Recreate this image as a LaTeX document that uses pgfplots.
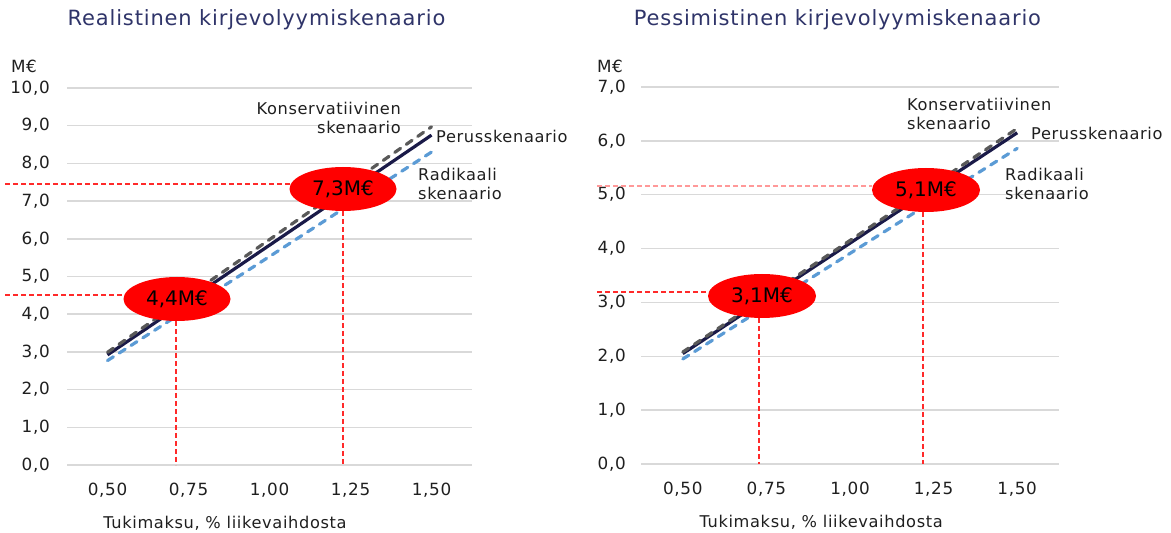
\documentclass[border=0pt]{standalone}
\usepackage{fontspec}
\setmainfont{DejaVu Sans}[LetterSpace=4]
\newfontfamily\plainfont{DejaVu Sans}
\usepackage{pgfplots}
\pgfplotsset{compat=1.18}
\definecolor{navycol}{HTML}{1A1A48}
\definecolor{konscol}{HTML}{595959}
\definecolor{radcol}{HTML}{5B9BD5}
\definecolor{gridc}{HTML}{D9D9D9}
\definecolor{titlec}{HTML}{2F3469}
\definecolor{txt}{HTML}{1F1F1F}
\definecolor{annred}{HTML}{FF2A2A}
\definecolor{annpink}{HTML}{FF9999}

\pgfplotstableread{
x    perus  kons   rad
0.50 2.92   2.99   2.77
0.75 4.375  4.485  4.15
1.00 5.83   5.98   5.53
1.25 7.29   7.475  6.92
1.50 8.75   8.97   8.30
}\realdata
\pgfplotstableread{
x    perus  kons   rad
0.50 2.05   2.08   1.95
0.75 3.075  3.115  2.93
1.00 4.10   4.15   3.91
1.25 5.125  5.19   4.89
1.50 6.15   6.23   5.86
}\pessdata

\tikzset{
  perusline/.style={navycol, line width=3.2pt},
  konsline/.style={konscol, line width=3.2pt, line cap=round, dash pattern=on 7pt off 7pt},
  radline/.style={radcol, line width=3.2pt, line cap=round, dash pattern=on 7pt off 7pt},
  ann/.style={annred, line width=1.3pt, dash pattern=on 5pt off 3pt},
}
\pgfplotsset{
  mystyle/.style={
    scale only axis,
    axis line style={draw=none},
    major tick length=0pt,
    ymajorgrids,
    grid style={gridc, line width=1.5pt},
    xmin=0.375, xmax=1.625,
    xtick={0.5,0.75,1,1.25,1.5},
    ymin=0,
    clip=false,
    /pgf/number format/assume math mode=true,
    ticklabel style={font=\fontsize{16.8}{20}\selectfont, text=txt},
    xticklabel style={inner sep=0pt, yshift=-18pt,
      /pgf/number format/use comma, /pgf/number format/fixed,
      /pgf/number format/fixed zerofill, /pgf/number format/precision=2},
    yticklabel style={inner sep=0pt, xshift=-17pt,
      /pgf/number format/use comma, /pgf/number format/fixed,
      /pgf/number format/fixed zerofill, /pgf/number format/precision=1},
    xlabel={Tukimaksu, \% liikevaihdosta},
    xlabel style={font=\fontsize{16.2}{19}\selectfont, text=txt, anchor=center, yshift=-58pt},
  },
}

\begin{document}
\begin{tikzpicture}[x=1pt,y=1pt]
\path[use as bounding box] (0,0) rectangle (1171,533);

% Left chart
\begin{axis}[mystyle, at={(67pt,68pt)}, anchor=south west,
  width=405pt, height=377pt, ymax=10, ytick={0,1,...,10},
  xlabel style={at={(axis description cs:0.39,0)}}]
\addplot[perusline] table[x=x,y=perus]{\realdata};
\addplot[konsline] table[x=x,y=kons]{\realdata};
\addplot[radline] table[x=x,y=rad]{\realdata};
\end{axis}

% Right chart
\begin{axis}[mystyle, at={(641pt,69pt)}, anchor=south west,
  width=418pt, height=377pt, ymax=7, ytick={0,1,...,7},
  yticklabel style={xshift=2pt},
  xlabel style={at={(axis description cs:0.431,0)}}]
\addplot[perusline] table[x=x,y=perus]{\pessdata};
\addplot[konsline] table[x=x,y=kons]{\pessdata};
\addplot[radline] table[x=x,y=rad]{\pessdata};
\end{axis}

% Titles
\node[text=titlec, font=\fontsize{21}{25}\selectfont] at (256.5,513) {Realistinen kirjevolyymiskenaario};
\node[text=titlec, font=\fontsize{21}{25}\selectfont] at (837.5,513) {Pessimistinen kirjevolyymiskenaario};
% Units
\node[text=txt, font=\fontsize{16.8}{20}\selectfont] at (24,467) {M€};
\node[text=txt, font=\fontsize{16.8}{20}\selectfont] at (610,467) {M€};

% Series labels left
\node[text=txt, font=\fontsize{16.2}{18.5}\selectfont, align=right, anchor=north east, inner sep=0pt] at (401,431) {Konservatiivinen\\skenaario};
\node[text=txt, font=\fontsize{16.2}{18.5}\selectfont, anchor=west, inner sep=0pt] at (436,397) {Perusskenaario};
\node[text=txt, font=\fontsize{16.2}{18.5}\selectfont, align=left, anchor=north west, inner sep=0pt] at (418,365) {Radikaali\\skenaario};
% Series labels right
\node[text=txt, font=\fontsize{16.2}{18.5}\selectfont, align=left, anchor=north west, inner sep=0pt] at (907,435) {Konservatiivinen\\skenaario};
\node[text=txt, font=\fontsize{16.2}{18.5}\selectfont, anchor=west, inner sep=0pt] at (1031,400) {Perusskenaario};
\node[text=txt, font=\fontsize{16.2}{18.5}\selectfont, align=left, anchor=north west, inner sep=0pt] at (1005,365) {Radikaali\\skenaario};

% Annotations left
\draw[ann] (5,349) -- (290,349);
\draw[ann] (5,238) -- (125,238);
\draw[ann] (176,212) -- (176,68);
\draw[ann] (343,322) -- (343,68);
\fill[red] (177,234) ellipse [x radius=53.5, y radius=22];
\fill[red] (343,344) ellipse [x radius=53.5, y radius=22];
\node[font=\plainfont\fontsize{20}{24}\selectfont] at (177,234) {4,4M€};
\node[font=\plainfont\fontsize{20}{24}\selectfont] at (343,344) {7,3M€};

% Annotations right
\draw[ann, annpink] (597,347) -- (872,347);
\draw[ann] (597,241) -- (708,241);
\draw[ann] (759,215) -- (759,69);
\draw[ann] (923,321) -- (923,69);
\fill[red] (762,237) ellipse [x radius=54, y radius=22];
\fill[red] (926,343) ellipse [x radius=54, y radius=22];
\node[font=\plainfont\fontsize{20}{24}\selectfont] at (762,237) {3,1M€};
\node[font=\plainfont\fontsize{20}{24}\selectfont] at (926,343) {5,1M€};
\end{tikzpicture}
\end{document}
